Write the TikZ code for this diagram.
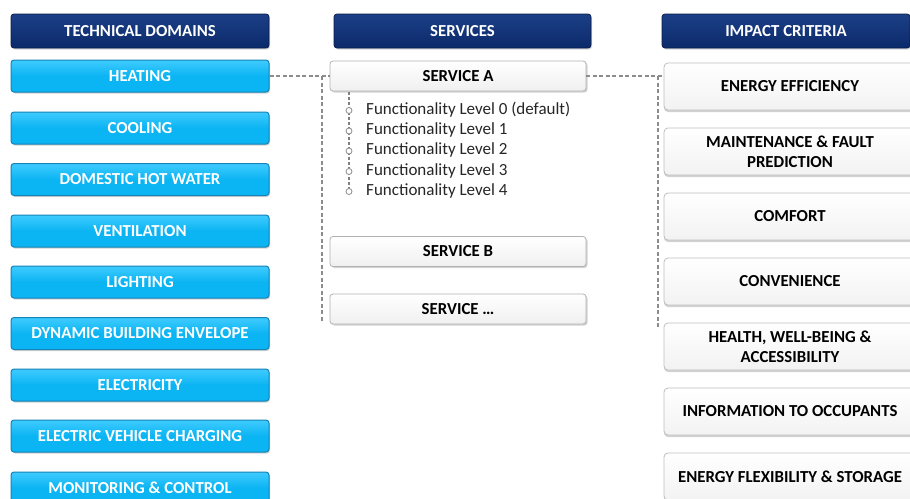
\documentclass[tikz,border=0pt]{standalone}
\usepackage{fontspec}
\setmainfont{Carlito}
\usetikzlibrary{shadows}
\definecolor{navy}{HTML}{0B2A6B}
\definecolor{navyL}{HTML}{1C3F86}
\definecolor{cyanB}{HTML}{0BB4F2}
\definecolor{cyanL}{HTML}{3FCBFF}
\definecolor{cyanD}{HTML}{1683B8}
\definecolor{dashG}{HTML}{8C8C8C}
\tikzset{
  hdr/.style={rectangle, rounded corners=3pt, draw=navy!70!black, line width=0.8pt,
    top color=navyL, bottom color=navy, text=white, font=\bfseries\fontsize{16.8}{19}\selectfont,
    minimum height=34pt, inner sep=0pt, drop shadow={shadow xshift=1pt, shadow yshift=-1.5pt, opacity=0.3}},
  dom/.style={rectangle, rounded corners=3pt, draw=cyanD, line width=1pt,
    top color=cyanL, bottom color=cyanB, middle color=cyanB, text=white,
    font=\bfseries\fontsize{16.8}{19}\selectfont, minimum width=258pt, minimum height=32pt, inner sep=0pt,
    drop shadow={shadow xshift=1pt, shadow yshift=-1.5pt, opacity=0.35}},
  svc/.style={rectangle, rounded corners=3pt, draw=gray!60, line width=0.8pt,
    top color=white, bottom color=gray!12, text=black,
    font=\bfseries\fontsize{16.8}{19}\selectfont, minimum width=256pt, minimum height=30pt, inner sep=0pt,
    drop shadow={shadow xshift=1.5pt, shadow yshift=-1.5pt, opacity=0.35}},
  imp/.style={rectangle, rounded corners=4pt, draw=gray!50, line width=0.8pt,
    top color=white, bottom color=gray!10, text=black, align=center,
    font=\bfseries\fontsize{16.8}{20}\selectfont, minimum width=252pt, minimum height=47pt, inner sep=0pt,
    drop shadow={shadow xshift=0pt, shadow yshift=-2pt, opacity=0.35}},
  lvl/.style={anchor=west, font=\fontsize{17}{20}\selectfont, text=black!85, inner sep=0pt},
  lvldot/.style={circle, draw=gray!90, line width=0.8pt, fill=white, minimum size=6pt, inner sep=0pt},
  conn/.style={draw=dashG, line width=1.3pt, dash pattern=on 4pt off 2.5pt}
}
\begin{document}
\begin{tikzpicture}[x=1pt,y=-1pt]
\useasboundingbox (0,0) rectangle (910,498);
\clip (0,0) rectangle (910,498);
\fill[white] (0,0) rectangle (910,498);

% headers
\node[hdr, minimum width=258pt] (hTD) at (140,31) {TECHNICAL DOMAINS};
\node[hdr, minimum width=257pt] (hSV) at (462.5,31) {SERVICES};
\node[hdr, minimum width=248pt] (hIC) at (786,31) {IMPACT CRITERIA};

% technical domains
\node[dom] (heat) at (140,76) {HEATING};
\node[dom] (cool) at (140,128) {COOLING};
\node[dom] (dhw)  at (140,179.5) {DOMESTIC HOT WATER};
\node[dom] (vent) at (140,231) {VENTILATION};
\node[dom] (light) at (140,282) {LIGHTING};
\node[dom] (dbe) at (140,333.5) {DYNAMIC BUILDING ENVELOPE};
\node[dom] (elec) at (140,385) {ELECTRICITY};
\node[dom] (evc) at (140,436) {ELECTRIC VEHICLE CHARGING};
\node[dom] (mc) at (140,488) {MONITORING \& CONTROL};

% connectors (drawn before services so they sit behind)
\coordinate (lv1) at (322,76);
\coordinate (lv2) at (322,322);
\coordinate (rv1) at (658,76);
\coordinate (rv2) at (658,328);
\coordinate (lt1) at (349,92);
\coordinate (lt2) at (349,193);
\draw[conn] (lv1) -- (lv2);
\draw[conn] (rv1) -- (rv2);
\draw[conn, line width=1.1pt, draw=gray, dash pattern=on 3pt off 2pt] (lt1) -- (lt2);

% services
\node[svc] (sA) at (458,76) {SERVICE A};
\node[svc] (sB) at (458,251.5) {SERVICE B};
\node[svc] (sC) at (458,309) {SERVICE \dots};

% impact criteria
\node[imp] (ee) at (790,86.5) {ENERGY EFFICIENCY};
\node[imp] (mf) at (790,151.5) {MAINTENANCE \& FAULT\\PREDICTION};
\node[imp] (co) at (790,216.5) {COMFORT};
\node[imp] (cv) at (790,281.5) {CONVENIENCE};
\node[imp] (hw) at (790,346.5) {HEALTH, WELL-BEING \&\\ACCESSIBILITY};
\node[imp] (io) at (790,411.5) {INFORMATION TO OCCUPANTS};
\node[imp] (ef) at (790,476.5) {ENERGY FLEXIBILITY \& STORAGE};

\draw[conn] (heat.east) -- (sA.west);
\draw[conn] (sA.east) -- (ee.west |- sA.east);

% functionality levels
\foreach \i/\y/\t in {0/109.5/Functionality Level 0 (default),1/130/Functionality Level 1,2/150/Functionality Level 2,3/170.5/Functionality Level 3,4/190.5/Functionality Level 4}{
  \node[lvldot] (d\i) at (349,\y+1) {};
  \node[lvl] (f\i) at (366,\y) {\t};
}
\end{tikzpicture}
\end{document}
